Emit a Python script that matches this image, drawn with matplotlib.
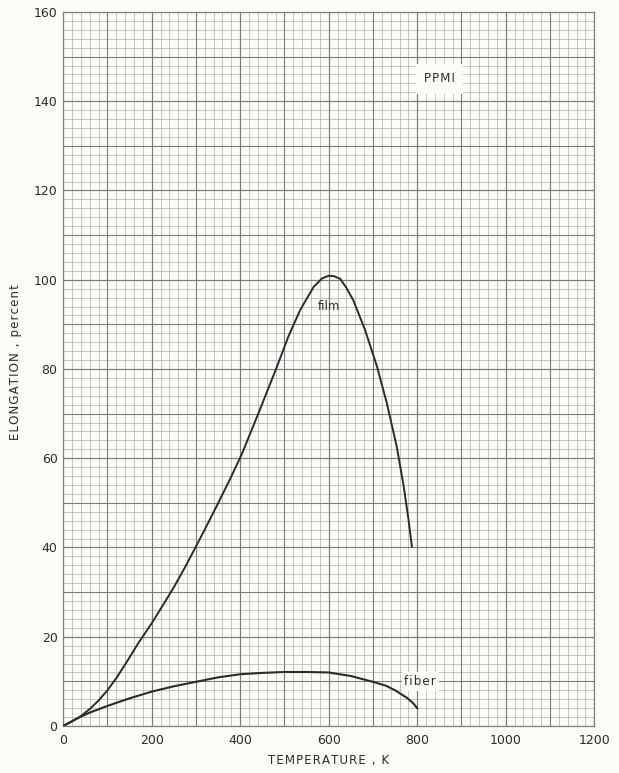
import matplotlib
matplotlib.use("Agg")
import matplotlib.pyplot as plt
from matplotlib.ticker import MultipleLocator

# Elongation vs temperature for PPMI, film and fiber
film_temp = [0, 20, 40, 60, 80, 100, 120, 144, 170, 200, 225, 249, 275, 300,
             325, 347, 377, 404, 443, 483, 509, 536, 566, 585, 600, 612, 626,
             640, 656, 682, 709, 731, 754, 769, 780, 788]
film_elong = [0, 1.0, 2.2, 3.8, 5.7, 8.0, 10.7, 14.4, 18.6, 23.0, 27.0, 30.9,
              35.5, 40.2, 45.0, 49.3, 55.3, 61.0, 70.5, 80.5, 87.3, 93.3, 98.4,
              100.3, 100.9, 100.8, 100.2, 98.2, 95.3, 88.8, 80.6, 72.5, 62.5,
              54.0, 46.5, 40.2]

fiber_temp = [0, 20, 40, 60, 100, 150, 200, 250, 300, 350, 400, 450, 500, 550,
              600, 650, 700, 730, 750, 777, 790, 800]
fiber_elong = [0, 1.1, 2.1, 3.0, 4.5, 6.2, 7.7, 8.9, 9.9, 10.9, 11.6, 11.9,
               12.1, 12.1, 12.0, 11.2, 9.9, 9.0, 8.0, 6.3, 5.2, 4.0]

x_ticks = [0, 200, 400, 600, 800, 1000, 1200]
y_ticks = [0, 20, 40, 60, 80, 100, 120, 140, 160]

paper = "#fbfbf8"
ink = "#2b2b2b"


def spaced(s):
    # open up the letter spacing like the drafted lettering
    return "\u200a".join(s)


fig = plt.figure(figsize=(6.19, 7.73), dpi=100, facecolor=paper)
ax = fig.add_axes([0.102, 0.0608, 0.858, 0.9237])
ax.set_facecolor(paper)

ax.set_xlim(0, 1200)
ax.set_ylim(0, 160)
ax.set_xticks(x_ticks)
ax.set_yticks(y_ticks)
ax.xaxis.set_minor_locator(MultipleLocator(20))
ax.yaxis.set_minor_locator(MultipleLocator(2))

# graph-paper grid: fine lines every 20 K / 2 %, heavier every 100 K / 10 %
ax.grid(which="minor", color="#b4b4b4", lw=0.55)
ax.grid(which="major", color="#7c7c7c", lw=0.8)
for v in range(100, 1200, 100):
    ax.axvline(v, color="#7c7c7c", lw=0.8, zorder=1)
for v in range(10, 160, 10):
    ax.axhline(v, color="#7c7c7c", lw=0.8, zorder=1)
ax.set_axisbelow(True)

for s in ax.spines.values():
    s.set_color("#808080")
    s.set_linewidth(0.9)

ax.tick_params(which="both", length=0, colors=ink, labelsize=9, pad=4)
ax.tick_params(axis="x", pad=6)

ax.plot(film_temp, film_elong, color=ink, lw=1.4, zorder=3,
        solid_joinstyle="round")
ax.plot(fiber_temp, fiber_elong, color=ink, lw=1.5, zorder=3,
        solid_joinstyle="round")

box = dict(facecolor=paper, edgecolor="none", pad=2)
ax.text(600, 94, "film", ha="center", va="center", fontsize=8.5, color=ink,
        zorder=4)
ax.text(807, 10, spaced("fiber"), ha="center", va="center", fontsize=8.5,
        color=ink, bbox=box, zorder=4)
ax.text(850, 145, spaced("PPMI"), ha="center", va="center", fontsize=8.5,
        color=ink, bbox=dict(facecolor=paper, edgecolor="none", pad=6),
        zorder=4)

ax.set_xlabel(spaced("TEMPERATURE , K"), fontsize=8.5, color=ink, labelpad=5)
ax.set_ylabel(spaced("ELONGATION , percent"), fontsize=8.5, color=ink,
              labelpad=10)
ax.yaxis.set_label_coords(-0.077, 0.51)

fig.savefig("out.png", dpi=100, facecolor=paper)
